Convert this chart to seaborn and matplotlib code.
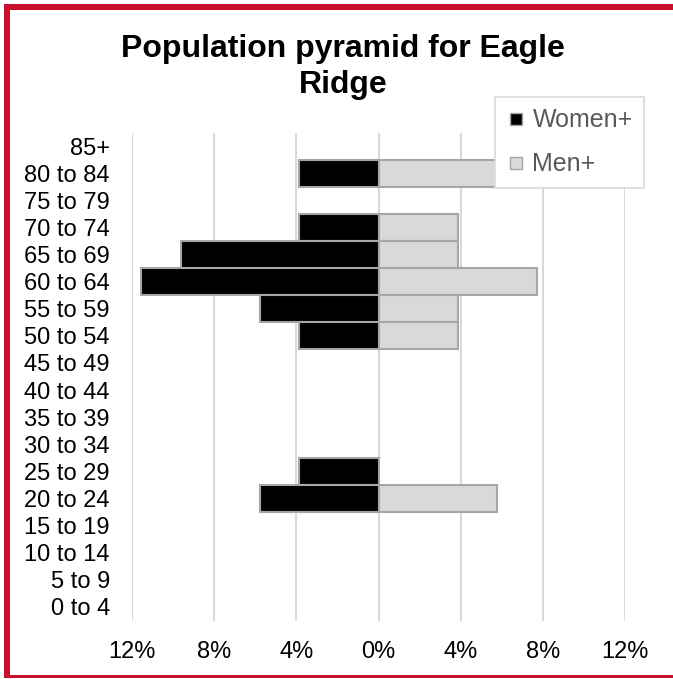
import matplotlib
matplotlib.use("Agg")
import matplotlib.pyplot as plt
import seaborn as sns
import pandas as pd
from matplotlib.lines import Line2D
from matplotlib.patches import Rectangle
from matplotlib.ticker import FuncFormatter, FixedLocator

sns.set_theme(style="white")
plt.rcParams['font.family'] = ['Liberation Sans', 'DejaVu Sans']
plt.rcParams['text.color'] = '#000000'

age_groups = ['85+', '80 to 84', '75 to 79', '70 to 74', '65 to 69', '60 to 64',
              '55 to 59', '50 to 54', '45 to 49', '40 to 44', '35 to 39', '30 to 34',
              '25 to 29', '20 to 24', '15 to 19', '10 to 14', '5 to 9', '0 to 4']
women = [0, 3.85, 0, 3.85, 9.6, 11.55, 5.77, 3.85, 0, 0, 0, 0, 3.85, 5.77, 0, 0, 0, 0]
men = [0, 5.77, 0, 3.85, 3.85, 7.7, 3.85, 3.85, 0, 0, 0, 0, 0, 5.77, 0, 0, 0, 0]
x_ticks = [-12, -8, -4, 0, 4, 8, 12]
title = "Population pyramid for Eagle\nRidge"

df = pd.DataFrame({'age': age_groups * 2,
                   'value': [-w for w in women] + men,
                   'sex': ['Women+'] * len(age_groups) + ['Men+'] * len(age_groups)})

W, H = 673, 679
fig = plt.figure(figsize=(W / 100, H / 100), dpi=100)
ax = fig.add_axes([132 / W, 1 - 620.5 / H, (625 - 132) / W, (620.5 - 132.5) / H])

for sex, color in [('Women+', '#000000'), ('Men+', '#d9d9d9')]:
    sub = df[(df['sex'] == sex) & (df['value'] != 0)]
    sns.barplot(data=sub, x='value', y='age', order=age_groups, orient='h',
                color=color, edgecolor='#a6a6a6', linewidth=1.5, width=1.0,
                saturation=1, ax=ax, zorder=3)

ax.set_xlim(-12, 12)
ax.set_ylim(len(age_groups) - 0.5, -0.5)
ax.xaxis.set_major_locator(FixedLocator(x_ticks))
ax.xaxis.set_major_formatter(FuncFormatter(lambda v, p: f"{abs(v):.0f}%"))
ax.grid(axis='x', color='#d9d9d9', linewidth=1.5, zorder=0)
ax.grid(axis='y', visible=False)
for s in ax.spines.values():
    s.set_visible(False)
ax.set_xlabel('')
ax.set_ylabel('')
ax.tick_params(axis='both', length=0, labelsize=17, colors='#000000')
ax.tick_params(axis='y', pad=16)
ax.tick_params(axis='x', pad=15)
ax.set_axisbelow(True)

fig.text(343 / W, 1 - 67 / H, title, ha='center', va='center', fontsize=23,
         fontweight='bold', linespacing=1.25, color='#000000')

handles = [Line2D([], [], marker='s', linestyle='none', markersize=8,
                  markerfacecolor='#000000', markeredgecolor='#a6a6a6', markeredgewidth=1),
           Line2D([], [], marker='s', linestyle='none', markersize=8,
                  markerfacecolor='#d9d9d9', markeredgecolor='#a6a6a6', markeredgewidth=1)]
leg = fig.legend(handles, ['Women+', 'Men+'], loc='upper left',
                 bbox_to_anchor=(495 / W, 1 - 97 / H), bbox_transform=fig.transFigure,
                 fontsize=18, frameon=True, fancybox=False, framealpha=1,
                 edgecolor='#d9d9d9', labelcolor='#595959', handlelength=0.8,
                 handletextpad=0.25, labelspacing=0.8, borderpad=0.45, borderaxespad=0)
leg.get_frame().set_linewidth(1.2)

red = '#c8102e'
fig.add_artist(Rectangle((4 / W, 1 - 678 / H), 6 / W, 674 / H, transform=fig.transFigure,
                         facecolor=red, edgecolor='none'))
fig.add_artist(Rectangle((4 / W, 1 - 10 / H), 669 / W, 6 / H, transform=fig.transFigure,
                         facecolor=red, edgecolor='none'))
fig.add_artist(Rectangle((4 / W, 1 - 678 / H), 669 / W, 3 / H, transform=fig.transFigure,
                         facecolor=red, edgecolor='none'))

fig.savefig('out.png', dpi=100, facecolor='white')
